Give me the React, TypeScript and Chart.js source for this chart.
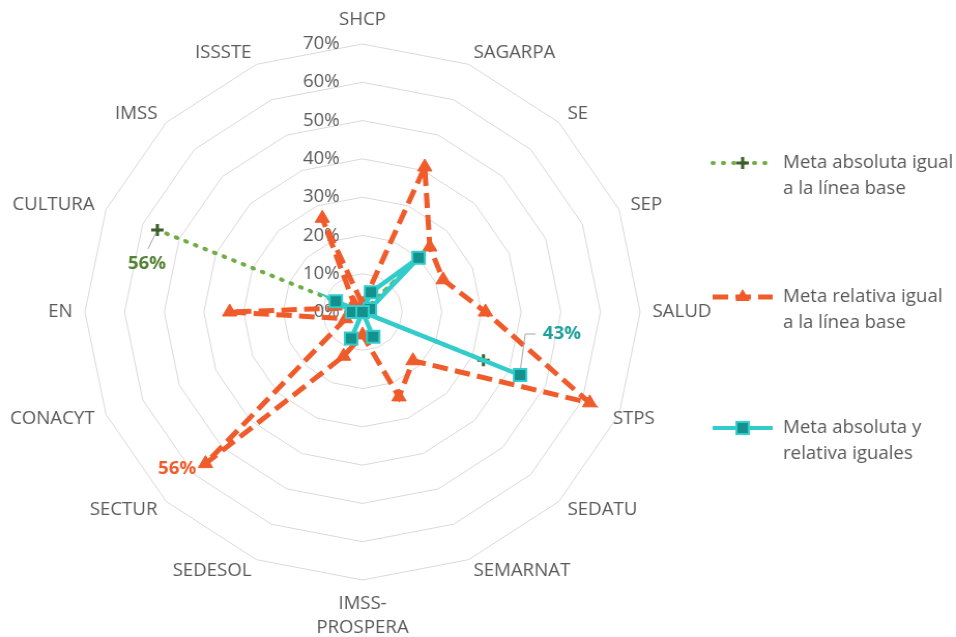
import React, { useEffect, useRef } from "react";
import { Chart, registerables } from "chart.js";

Chart.register(...registerables);

// ---------- data ----------
const CATEGORIES = [
  "SHCP", "SAGARPA", "SE", "SEP", "SALUD", "STPS", "SEDATU", "SEMARNAT",
  "IMSS-PROSPERA", "SEDESOL", "SECTUR", "CONACYT", "EN", "CULTURA", "IMSS", "ISSSTE",
];
const CATEGORY_LABELS: (string | string[])[] = [
  "SHCP", "SAGARPA", "SE", "SEP", "SALUD", "STPS", "SEDATU", "SEMARNAT",
  ["IMSS-", "PROSPERA"], "SEDESOL", "SECTUR", "CONACYT", "EN", "CULTURA", "IMSS", "ISSSTE",
];

const SERIES_ABS_NAME = ["Meta absoluta igual", "a la línea base"];
const SERIES_REL_NAME = ["Meta relativa igual", "a la línea base"];
const SERIES_BOTH_NAME = ["Meta absoluta y", "relativa iguales"];

// values in %
const ABS_BASE = [0, 0, 20, 0, 0, 33, 0, 0, 0, 0, 0, 0, 0, 56, 0, 0];
const REL_BASE = [2, 41, 24, 22, 31, 62, 18, 24, 6, 12.5, 56, 4.6, 33.5, 3, 3, 26.5];
const ABS_REL = [0, 5.6, 20, 2, 0, 43, 0, 7, 0, 7.5, 0, 0, 2.6, 7.3, 0, 0];

const TICK_VALUES = [0, 10, 20, 30, 40, 50, 60, 70];

// ---------- styling ----------
const FONT = '"Open Sans", "Noto Sans", sans-serif';
const GREEN = "#70ad47";
const GREEN_DARK = "#3b5f2a";
const GREEN_TEXT = "#548235";
const ORANGE = "#ef5b2a";
const CYAN = "#33cccc";
const TEAL = "#14918c";
const TEAL_TEXT = "#1fa09b";
const GRAY_TEXT = "#595959";

const GREEN_DASH = [1, 9];
const ORANGE_DASH = [15, 7];

const CANVAS_W = 923; // displayed stretched to 956 like the reference
const CANVAS_H = 637;
const CX = 350;
const CY = 312;
const RADIUS = 268;
const LABEL_PAD = 12;
const LINE_H = 24;
const LABEL_NUDGE_X: Record<string, number> = { STPS: -17 };

function drawMarker(ctx: CanvasRenderingContext2D, kind: string, x: number, y: number) {
  ctx.save();
  ctx.setLineDash([]);
  if (kind === "cross") {
    ctx.strokeStyle = GREEN_DARK;
    ctx.lineWidth = 3;
    ctx.lineCap = "butt";
    ctx.beginPath();
    ctx.moveTo(x - 6, y); ctx.lineTo(x + 6, y);
    ctx.moveTo(x, y - 6); ctx.lineTo(x, y + 6);
    ctx.stroke();
  } else if (kind === "triangle") {
    const r = 8;
    ctx.fillStyle = ORANGE;
    ctx.beginPath();
    for (let k = 0; k < 3; k++) {
      const a = (k * 2 * Math.PI) / 3;
      const px = x + Math.sin(a) * r;
      const py = y - Math.cos(a) * r;
      if (k === 0) ctx.moveTo(px, py); else ctx.lineTo(px, py);
    }
    ctx.closePath();
    ctx.fill();
  } else {
    ctx.fillStyle = TEAL;
    ctx.strokeStyle = CYAN;
    ctx.lineWidth = 2;
    ctx.fillRect(x - 6, y - 6, 12, 12);
    ctx.strokeRect(x - 6, y - 6, 12, 12);
  }
  ctx.restore();
}

const decorPlugin = {
  id: "excelDecor",
  beforeDatasetsDraw(chart: any) {
    const s = chart.scales.r;
    const ctx: CanvasRenderingContext2D = chart.ctx;
    ctx.save();
    ctx.fillStyle = GRAY_TEXT;
    ctx.font = `18px ${FONT}`;
    ctx.textBaseline = "middle";
    // tick labels, left of vertical axis
    ctx.textAlign = "right";
    TICK_VALUES.forEach((v) => {
      ctx.fillText(`${v}%`, s.xCenter - 22, s.yCenter - s.getDistanceFromCenterForValue(v));
    });
    // category labels (Excel-like placement)
    CATEGORY_LABELS.forEach((lab, i) => {
      const deg = (((s.getIndexAngle(i) * 180) / Math.PI) % 360 + 360) % 360;
      const p = s.getPointPosition(i, s.drawingArea + LABEL_PAD);
      const lines = Array.isArray(lab) ? lab : [lab];
      let align: CanvasTextAlign = "center";
      if (deg > 1 && deg < 179) align = "left";
      else if (deg > 181 && deg < 359) align = "right";
      let top: number;
      if (deg < 1 || deg > 359) top = p.y - lines.length * LINE_H;
      else if (Math.abs(deg - 180) < 1) top = p.y;
      else top = p.y - (lines.length * LINE_H) / 2;
      ctx.textAlign = align;
      const nx = LABEL_NUDGE_X[CATEGORIES[i]] || 0;
      lines.forEach((t, k) => ctx.fillText(t, p.x + nx, top + LINE_H * k + LINE_H / 2));
    });
    ctx.restore();
  },
  afterDatasetsDraw(chart: any) {
    const ctx: CanvasRenderingContext2D = chart.ctx;
    ctx.save();
    ctx.textBaseline = "middle";
    ctx.font = `bold 18px ${FONT}`;

    // data labels
    const gi = CATEGORIES.indexOf("CULTURA");
    const gp = chart.getDatasetMeta(0).data[gi];
    const oi = CATEGORIES.indexOf("SECTUR");
    const op = chart.getDatasetMeta(1).data[oi];
    const ci = CATEGORIES.indexOf("STPS");
    const cp = chart.getDatasetMeta(2).data[ci];

    ctx.strokeStyle = "#a6a6a6";
    ctx.lineWidth = 1;
    ctx.beginPath();
    ctx.moveTo(gp.x - 9, gp.y + 19);
    ctx.lineTo(gp.x - 2, gp.y + 4);
    ctx.stroke();
    ctx.beginPath();
    ctx.moveTo(cp.x + 0.5, cp.y - 7);
    ctx.lineTo(cp.x + 5, cp.y - 41);
    ctx.lineTo(cp.x + 15, cp.y - 41);
    ctx.stroke();

    ctx.textAlign = "center";
    ctx.fillStyle = GREEN_TEXT;
    ctx.fillText(`${Math.round(ABS_BASE[gi])}%`, gp.x - 10, gp.y + 34);
    ctx.textAlign = "right";
    ctx.fillStyle = ORANGE;
    ctx.fillText(`${Math.round(REL_BASE[oi])}%`, op.x - 9, op.y + 5);
    ctx.textAlign = "left";
    ctx.fillStyle = TEAL_TEXT;
    ctx.fillText(`${Math.round(ABS_REL[ci])}%`, cp.x + 22, cp.y - 41);

    // legend
    const items = [
      { name: SERIES_ABS_NAME, y: 163, color: GREEN, dash: GREEN_DASH, width: 4, cap: "round", marker: "cross" },
      { name: SERIES_REL_NAME, y: 297, color: ORANGE, dash: ORANGE_DASH, width: 5, cap: "butt", marker: "triangle" },
      { name: SERIES_BOTH_NAME, y: 428, color: CYAN, dash: [], width: 4, cap: "butt", marker: "rect" },
    ];
    const x0 = 688, x1 = 746, tx = 756;
    items.forEach((it) => {
      ctx.save();
      ctx.strokeStyle = it.color;
      ctx.lineWidth = it.width;
      ctx.lineCap = it.cap as CanvasLineCap;
      ctx.setLineDash(it.dash);
      ctx.beginPath();
      ctx.moveTo(x0, it.y);
      ctx.lineTo(x1, it.y);
      ctx.stroke();
      ctx.restore();
      drawMarker(ctx, it.marker, (x0 + x1) / 2, it.y);
      ctx.font = `18px ${FONT}`;
      ctx.fillStyle = GRAY_TEXT;
      ctx.textAlign = "left";
      it.name.forEach((t, k) => ctx.fillText(t, tx, it.y + k * 26));
    });
    ctx.restore();
  },
};

export default function App() {
  const ref = useRef<HTMLCanvasElement | null>(null);

  useEffect(() => {
    if (!ref.current) return;
    const chart = new Chart(ref.current, {
      type: "radar",
      data: {
        labels: CATEGORIES,
        datasets: [
          {
            label: SERIES_ABS_NAME.join(" "),
            data: ABS_BASE,
            order: 3,
            borderColor: GREEN,
            backgroundColor: "transparent",
            borderWidth: 4,
            borderDash: GREEN_DASH,
            borderCapStyle: "round",
            fill: false,
            pointStyle: "cross",
            pointRadius: 6,
            pointBorderWidth: 3,
            pointBorderColor: GREEN_DARK,
            pointBackgroundColor: GREEN_DARK,
          },
          {
            label: SERIES_REL_NAME.join(" "),
            data: REL_BASE,
            order: 2,
            borderColor: ORANGE,
            backgroundColor: "transparent",
            borderWidth: 5,
            borderDash: ORANGE_DASH,
            fill: false,
            pointStyle: "triangle",
            pointRadius: 8,
            pointBorderWidth: 1,
            pointBorderColor: ORANGE,
            pointBackgroundColor: ORANGE,
          },
          {
            label: SERIES_BOTH_NAME.join(" "),
            data: ABS_REL,
            order: 1,
            borderColor: CYAN,
            backgroundColor: "transparent",
            borderWidth: 4.5,
            fill: false,
            pointStyle: "rect",
            pointRadius: 8.5,
            pointBorderWidth: 2,
            pointBorderColor: CYAN,
            pointBackgroundColor: TEAL,
          },
        ],
      },
      options: {
        responsive: false,
        animation: false,
        events: [],
        layout: { padding: 0 },
        elements: { line: { tension: 0 } },
        plugins: {
          legend: { display: false },
          tooltip: { enabled: false },
          title: { display: false },
        },
        scales: {
          r: {
            min: 0,
            max: 70,
            beginAtZero: true,
            ticks: { stepSize: 10, display: false },
            grid: { circular: false, color: "#d9d9d9", lineWidth: 1 },
            angleLines: { display: false },
            pointLabels: { display: false },
            beforeFit: (scale: any) => {
              scale.xCenter = CX;
              scale.yCenter = CY;
              scale.drawingArea = RADIUS;
            },
          },
        },
      } as any,
      plugins: [decorPlugin],
    });
    return () => chart.destroy();
  }, []);

  return (
    <div
      style={{
        position: "fixed",
        left: 0,
        top: 0,
        width: 956,
        height: 637,
        background: "#ffffff",
      }}
    >
      <canvas
        ref={ref}
        width={CANVAS_W}
        height={CANVAS_H}
        style={{ width: "956px", height: "637px", display: "block" }}
      />
    </div>
  );
}
